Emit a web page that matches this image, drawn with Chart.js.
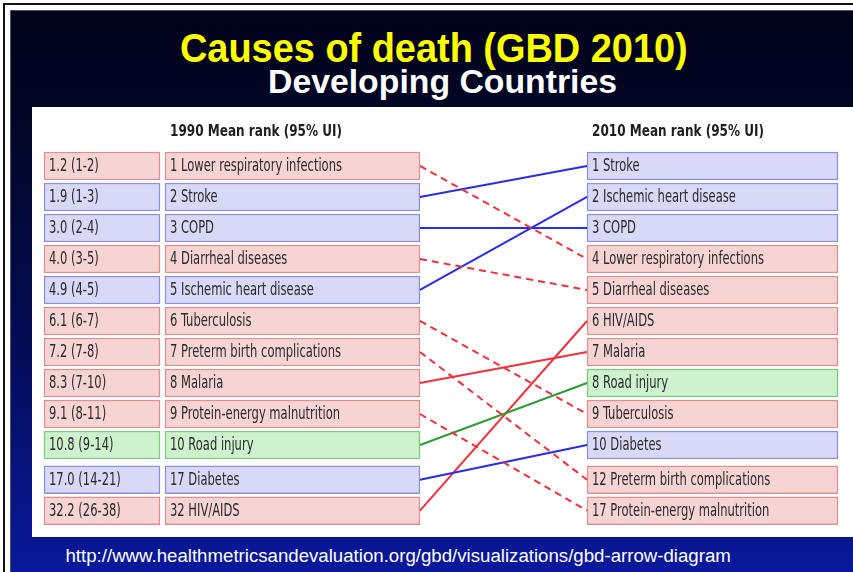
<!DOCTYPE html>
<html>
<head>
<meta charset="utf-8">
<script src="https://cdn.jsdelivr.net/npm/chart.js@4.4.1/dist/chart.umd.min.js"></script>
<style>
  html, body { margin: 0; padding: 0; background: #fff; overflow: hidden; }
  body { width: 853px; height: 572px; position: relative; }
  #frame { position: absolute; left: 3px; top: 3px; width: 900px; height: 620px; border-left: 2px solid #111; border-top: 2px solid #111; }
  #slide { position: absolute; left: 10px; top: 10px; width: 900px; height: 620px;
    border-left: 1px solid #556; border-top: 1px solid #556;
    background: linear-gradient(#01031a 0%, #020628 20%, #040c58 55%, #0a1aa6 95%); }
  .txt { position: absolute; white-space: nowrap; font-family: "Liberation Sans", Arial, sans-serif; font-weight: bold; transform-origin: 50% 50%; }
  #t1 { color: #ffff00; font-size: 40px; line-height: 40px; top: 28px; }
  #t2 { color: #ffffff; font-size: 33px; line-height: 33px; top: 65px; }
  #url { color: #ffffff; font-size: 18px; line-height: 18px; top: 547px; font-weight: normal; }
  #panel { position: absolute; left: 32px; top: 107px; width: 821px; height: 430px; background: #fff; }
  #chart { position: absolute; left: 0; top: 0; }
</style>
</head>
<body>
<div id="frame"></div>
<div id="slide"></div>
<div class="txt" id="t1" data-cx="434" data-w="508">Causes of death (GBD 2010)</div>
<div class="txt" id="t2" data-cx="442" data-w="349">Developing Countries</div>
<div class="txt" id="url" data-cx="398" data-w="665">http://www.healthmetricsandevaluation.org/gbd/visualizations/gbd-arrow-diagram</div>
<div id="panel"><canvas id="chart" width="821" height="430"></canvas></div>
<script>
// 1990 ranking (left column)
const causes1990 = ['Lower respiratory infections', 'Stroke', 'COPD', 'Diarrheal diseases', 'Ischemic heart disease',
  'Tuberculosis', 'Preterm birth complications', 'Malaria', 'Protein-energy malnutrition', 'Road injury', 'Diabetes', 'HIV/AIDS'];
const rank1990 = [1, 2, 3, 4, 5, 6, 7, 8, 9, 10, 17, 32];
const meanRank1990 = [1.2, 1.9, 3.0, 4.0, 4.9, 6.1, 7.2, 8.3, 9.1, 10.8, 17.0, 32.2];
const uiLow1990 = [1, 1, 2, 3, 4, 6, 7, 7, 8, 9, 14, 26];
const uiHigh1990 = [2, 3, 4, 5, 5, 7, 8, 10, 11, 14, 21, 38];

// 2010 ranking (right column)
const causes2010 = ['Stroke', 'Ischemic heart disease', 'COPD', 'Lower respiratory infections', 'Diarrheal diseases',
  'HIV/AIDS', 'Malaria', 'Road injury', 'Tuberculosis', 'Diabetes', 'Preterm birth complications', 'Protein-energy malnutrition'];
const rank2010 = [1, 2, 3, 4, 5, 6, 7, 8, 9, 10, 12, 17];

// cause groups: comm = communicable/maternal/nutritional, ncd = non-communicable, inj = injuries
const groupOf = {
  'Lower respiratory infections': 'comm', 'Stroke': 'ncd', 'COPD': 'ncd', 'Diarrheal diseases': 'comm',
  'Ischemic heart disease': 'ncd', 'Tuberculosis': 'comm', 'Preterm birth complications': 'comm', 'Malaria': 'comm',
  'Protein-energy malnutrition': 'comm', 'Road injury': 'inj', 'Diabetes': 'ncd', 'HIV/AIDS': 'comm'
};

const fills = { comm: '#f6d4d4', ncd: '#d8d8f7', inj: '#cdf2cd' };
const borders = { comm: '#e09090', ncd: '#9090e0', inj: '#7ccc7c' };
const lineColors = { comm: '#f2303c', ncd: '#2b2bea', inj: '#2f9a3a' };

// layout (x in panel pixels, y in row slots)
const valueCol = [12, 128];
const labelCol = [133, 388];
const rightCol = [555, 806];
const headerSlot = -1.1;
const slot = i => i + (i >= 10 ? 0.12 : 0);

const bars = (col, groups) => ({
  type: 'bar',
  data: groups.map((g, i) => ({ x: col, y: slot(i) })),
  backgroundColor: groups.map(g => fills[g]),
  borderColor: groups.map(g => borders[g]),
  borderWidth: 1.5,
  borderSkipped: false,
  barThickness: 28,
  grouped: false,
  order: 2
});

const groups1990 = causes1990.map(c => groupOf[c]);
const groups2010 = causes2010.map(c => groupOf[c]);

const links = causes1990.map((c, i) => {
  const j = causes2010.indexOf(c);
  const g = groupOf[c];
  return {
    type: 'line',
    data: [{ x: labelCol[1], y: slot(i) }, { x: rightCol[0], y: slot(j) }],
    borderColor: lineColors[g],
    borderWidth: 2,
    borderDash: rank2010[j] > rank1990[i] ? [7, 5] : [],
    pointRadius: 0,
    fill: false,
    order: 1
  };
});

const boxText = [
  meanRank1990.map((m, i) => `${m.toFixed(1)} (${uiLow1990[i]}-${uiHigh1990[i]})`),
  causes1990.map((c, i) => `${rank1990[i]} ${c}`),
  causes2010.map((c, i) => `${rank2010[i]} ${c}`)
];

const textPlugin = {
  id: 'boxText',
  afterDatasetsDraw(chart) {
    const ctx = chart.ctx;
    ctx.save();
    ctx.font = '17px "DejaVu Sans Condensed", "DejaVu Sans", sans-serif';
    const sx = 172 / ctx.measureText('1 Lower respiratory infections').width;
    ctx.fillStyle = '#2a2a2a';
    ctx.textBaseline = 'middle';
    boxText.forEach((texts, k) => {
      chart.getDatasetMeta(k).data.forEach((bar, i) => {
        const left = Math.min(bar.base, bar.x);
        ctx.save();
        ctx.translate(left + 5, bar.y + 1);
        ctx.scale(sx, 1);
        ctx.fillText(texts[i], 0, 0);
        ctx.restore();
      });
    });
    // column headers
    ctx.font = 'bold 16px "DejaVu Sans Condensed", "DejaVu Sans", sans-serif';
    const hx = 172 / ctx.measureText('1990 Mean rank (95% UI)').width;
    const yh = chart.scales.y.getPixelForValue(headerSlot);
    [['1990 Mean rank (95% UI)', labelCol[0]], ['2010 Mean rank (95% UI)', rightCol[0]]].forEach(([t, xv]) => {
      ctx.save();
      ctx.translate(chart.scales.x.getPixelForValue(xv) + 5, yh);
      ctx.scale(hx, 1);
      ctx.fillStyle = '#1e1e1e';
      ctx.fillText(t, 0, 0);
      ctx.restore();
    });
    ctx.restore();
  }
};

new Chart(document.getElementById('chart'), {
  type: 'bar',
  data: {
    datasets: [bars(valueCol, groups1990), bars(labelCol, groups1990), bars(rightCol, groups2010), ...links]
  },
  options: {
    indexAxis: 'y',
    responsive: false,
    animation: false,
    layout: { padding: 0 },
    plugins: { legend: { display: false }, tooltip: { enabled: false }, title: { display: false } },
    scales: {
      x: { type: 'linear', min: 0, max: 821, display: false, offset: false },
      y: { type: 'linear', min: -1.903, max: 11.968, reverse: true, display: false, offset: false }
    }
  },
  plugins: [textPlugin]
});

// fit slide texts to their widths
document.querySelectorAll('.txt').forEach(el => {
  const w = el.offsetWidth;
  const s = Number(el.dataset.w) / w;
  el.style.left = (Number(el.dataset.cx) - w / 2) + 'px';
  el.style.transform = `scaleX(${s})`;
});
</script>
</body>
</html>
